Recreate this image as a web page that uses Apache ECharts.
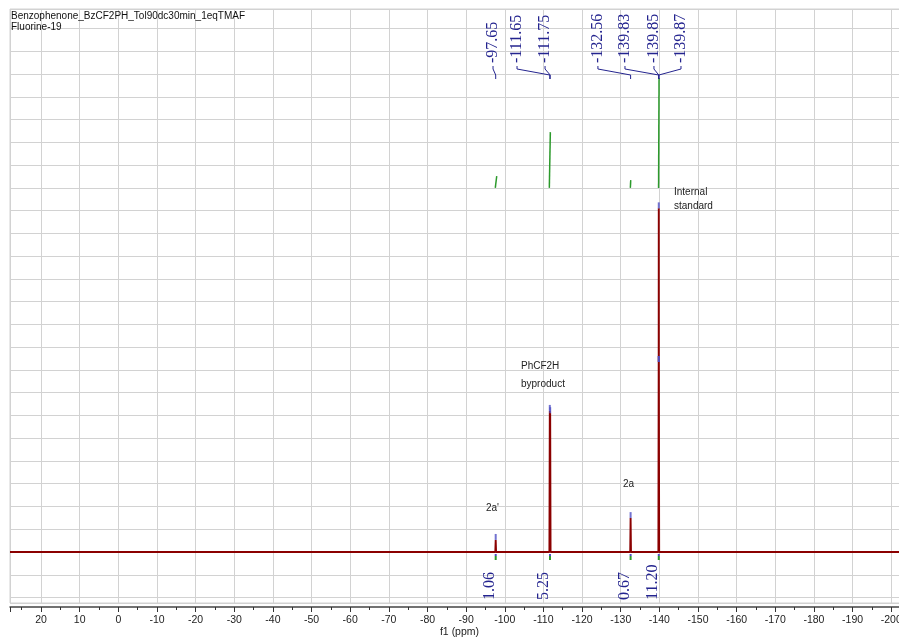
<!DOCTYPE html>
<html><head><meta charset="utf-8">
<script src="https://cdn.jsdelivr.net/npm/echarts@6/dist/echarts.min.js"></script>
<style>html,body{margin:0;padding:0;background:#fff}#c{width:899px;height:637px}</style>
</head><body><div id="c"></div>
<script>
// ---------- DATA ----------
const titleLines = ['Benzophenone_BzCF2PH_Tol90dc30min_1eqTMAF', 'Fluorine-19'];
const axisName = 'f1 (ppm)';
const xMax = 28.03, xMin = -204.6;          // visible ppm range
const yMin = -2.24, yMax = 23.86;           // intensity range (arbitrary units)

// spectrum trace (ppm, intensity)
const specPpm = [28.03, -97.55, -97.65, -97.75, -111.55, -111.65, -111.70, -111.75, -111.85,
                 -132.46, -132.56, -132.66, -139.75, -139.83, -139.85, -139.87, -139.95, -204.6];
const specInt = [0, 0, 0.53, 0, 0, 6.2, 5.7, 6.1, 0,
                 0, 1.49, 0, 0, 8.35, 15.1, 8.35, 0, 0];

// picked peaks
const peakPpm = [-97.65, -111.65, -111.75, -132.56, -139.83, -139.85, -139.87];
const peakHeight = [0.53, 6.2, 6.1, 1.49, 8.35, 15.1, 8.35];
const peakLabels = ['-97.65', '-111.65', '-111.75', '-132.56', '-139.83', '-139.85', '-139.87'];

// integrals
const integralCenter = [-97.65, -111.70, -132.56, -139.85];
const integralValue = ['1.06', '5.25', '0.67', '11.20'];
const integralFrom = [-97.55, -111.53, -132.49, -139.80];
const integralTo = [-97.92, -111.79, -132.60, -139.92];
const integralBase = 16.0;
const integralTop = [16.52, 18.45, 16.34, 20.83];

// annotations
const annotations = [
  { lines: ['Internal', 'standard'] },
  { lines: ['PhCF2H', 'byproduct'] },
  { lines: ['2a'] },
  { lines: ["2a'"] }
];

// ---------- LAYOUT ----------
const peakLabelAt = [-96.96, -103.17, -110.42, -124.1, -131.1, -138.6, -145.6]; // label ppm positions
const annotationPos = [[674, 192, 14], [521, 366, 18], [623, 484, 0], [486, 508, 0]];
const BLUE = '#24248f';
const RED = '#8b0000';
const GREEN = '#2c9a2c';
const GRIDC = '#d2d2d2';
const SANS = '"Liberation Sans", Arial, sans-serif';
const SERIF = '"Liberation Serif", "Times New Roman", serif';

const chart = echarts.init(document.getElementById('c'), null, { renderer: 'canvas' });

const graphics = [];
titleLines.forEach((t, i) => graphics.push({
  type: 'text', x: 11, y: 16 + i * 11, z: 100,
  style: { text: t, font: '10px ' + SANS, fill: '#111', align: 'left', verticalAlign: 'middle' }
}));
annotations.forEach((a, k) => {
  const p = annotationPos[k];
  a.lines.forEach((t, j) => graphics.push({
    type: 'text', x: p[0], y: p[1] + j * p[2], z: 100,
    style: { text: t, font: '10px ' + SANS, fill: '#222', align: 'left', verticalAlign: 'middle' }
  }));
});

const integralSeries = integralCenter.map((c, i) => ({
  type: 'line', symbol: 'none', silent: true, z: 4,
  lineStyle: { color: GREEN, width: 1.5 },
  data: [[integralFrom[i], integralBase], [integralTo[i], integralTop[i]]]
}));

const option = {
  animation: false,
  backgroundColor: '#fff',
  grid: { left: 10, top: 9, width: 899, height: 594, containLabel: false, outerBoundsMode: 'none',
          show: true, borderColor: GRIDC, borderWidth: 1 },
  xAxis: {
    type: 'value', inverse: true, min: xMin, max: xMax, minInterval: 10, maxInterval: 10, offset: 4,
    axisLine: { show: true, onZero: false, lineStyle: { color: '#444', width: 1.5 } },
    axisTick: { show: true, length: 5, lineStyle: { color: '#333' } },
    minorTick: { show: true, splitNumber: 2, length: 3, lineStyle: { color: '#333' } },
    axisLabel: { fontSize: 10.5, color: '#222', margin: 8, showMinLabel: false, showMaxLabel: false, fontFamily: SANS },
    splitLine: { show: true, lineStyle: { color: GRIDC, width: 1 } },
    name: axisName, nameLocation: 'middle', nameGap: 20, nameMoveOverlap: false,
    nameTextStyle: { fontSize: 10.5, color: '#222', fontFamily: SANS }
  },
  yAxis: {
    type: 'value', min: yMin, max: yMax, minInterval: 1, maxInterval: 1,
    axisLine: { show: false }, axisTick: { show: false }, axisLabel: { show: false },
    splitLine: { show: true, lineStyle: { color: GRIDC, width: 1 } }
  },
  graphic: graphics,
  series: [
    {
      type: 'line', symbol: 'none', silent: true, z: 3,
      lineStyle: { color: RED, width: 1.9 },
      data: specPpm.map((p, i) => [p, specInt[i]])
    },
    {
      type: 'scatter', silent: true, z: 5, symbol: 'rect', symbolSize: [2, 6], symbolOffset: [0, -3],
      itemStyle: { color: '#4f4fc4' },
      data: peakPpm.map((p, i) => [p, peakHeight[i]])
    },
    ...integralSeries,
    {
      type: 'custom', silent: true, z: 6,
      data: peakPpm.map((p, i) => [p, peakLabelAt[i]]),
      renderItem: function (params, api) {
        const i = params.dataIndex;
        const px = api.coord([api.value(0), 0])[0];
        const lx = api.coord([api.value(1), 0])[0];
        return {
          type: 'group', children: [
            { type: 'text', x: lx, y: 63, rotation: Math.PI / 2,
              style: { text: peakLabels[i], font: '16px ' + SERIF, fill: BLUE, align: 'left', verticalAlign: 'middle' } },
            { type: 'polyline', shape: { points: [[lx, 66], [lx, 69], [px, 75], [px, 79]] },
              style: { stroke: BLUE, lineWidth: 1, fill: null } }
          ]
        };
      }
    },
    {
      type: 'custom', silent: true, z: 6,
      data: integralCenter.map((c, i) => [c, i]),
      renderItem: function (params, api) {
        const i = params.dataIndex;
        const x = api.coord([api.value(0), 0])[0];
        return {
          type: 'group', children: [
            { type: 'text', x: x - 6, y: 600, rotation: Math.PI / 2,
              style: { text: integralValue[i], font: '16px ' + SERIF, fill: BLUE, align: 'left', verticalAlign: 'middle' } },
            { type: 'rect', shape: { x: x - 1, y: 554, width: 2, height: 2 }, style: { fill: '#4f4fc4' } },
            { type: 'rect', shape: { x: x - 1, y: 556, width: 2, height: 4 }, style: { fill: GREEN } }
          ]
        };
      }
    }
  ]
};
chart.setOption(option);
</script>
</body></html>
